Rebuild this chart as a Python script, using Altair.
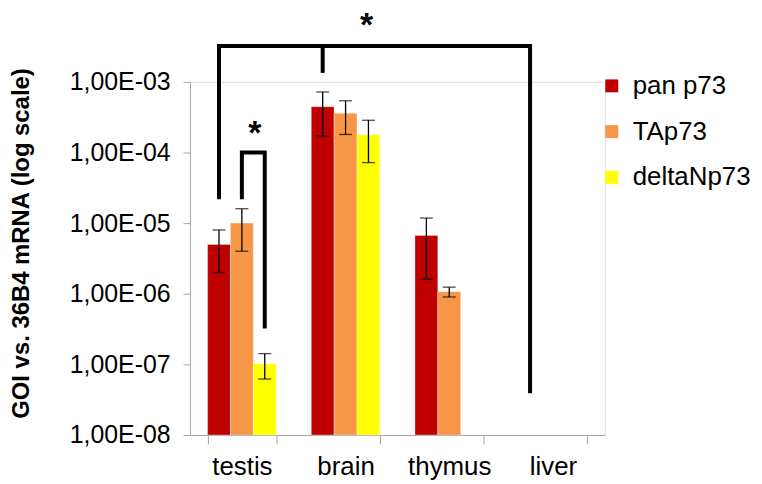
import altair as alt
import pandas as pd

categories = ["testis", "brain", "thymus", "liver"]
series = ["pan p73", "TAp73", "deltaNp73"]
colors = ["#C00000", "#F79646", "#FFFF00"]

pan_p73 = [5.0e-6, 4.45e-4, 6.7e-6, None]
tap73 = [1.0e-5, 3.6e-4, 1.07e-6, None]
deltanp73 = [1.02e-7, 1.79e-4, None, None]
pan_p73_sd = [3.0e-6, 2.75e-4, 5.1e-6, None]
tap73_sd = [6.0e-6, 1.8e-4, 1.7e-7, None]
deltanp73_sd = [4.0e-8, 1.07e-4, None, None]

y_ticks = [1e-8, 1e-7, 1e-6, 1e-5, 1e-4, 1e-3]

# significance brackets (category, series, value)
big_bracket_cat = ["testis", "testis", "liver", "liver"]
big_bracket_series = ["pan p73", "pan p73", "pan p73", "pan p73"]
big_bracket_y = [2.32e-5, 3.21e-3, 3.21e-3, 4.17e-8]
notch_cat = ["brain", "brain"]
notch_series = ["pan p73", "pan p73"]
notch_y = [3.21e-3, 1.43e-3]
small_bracket_cat = ["testis", "testis", "testis", "testis"]
small_bracket_series = ["TAp73", "TAp73", "deltaNp73", "deltaNp73"]
small_bracket_y = [2.32e-5, 1.0e-4, 1.0e-4, 3.43e-7]
big_star = {"category": "brain", "series": "deltaNp73", "value": 4.45e-3, "label": "*"}
small_star = {"category": "testis", "series": "deltaNp73", "value": 1.3e-4, "label": "*"}

rows = []
for s, vals, sds in [(series[0], pan_p73, pan_p73_sd), (series[1], tap73, tap73_sd), (series[2], deltanp73, deltanp73_sd)]:
    for c, v, sd in zip(categories, vals, sds):
        if v is not None:
            rows.append({"category": c, "series": s, "value": v, "lo": v - sd, "hi": v + sd})
bars_df = pd.DataFrame(rows)

br_rows = []
for bid, cats, sers, ys in [("big", big_bracket_cat, big_bracket_series, big_bracket_y),
                            ("notch", notch_cat, notch_series, notch_y),
                            ("small", small_bracket_cat, small_bracket_series, small_bracket_y)]:
    for i, (c, s, y) in enumerate(zip(cats, sers, ys)):
        br_rows.append({"bid": bid, "category": c, "series": s, "value": y, "ord": i})
br_df = pd.DataFrame(br_rows)

FONT = "Liberation Sans"
GRAY = "#A6A6A6"

x_enc = alt.X("category:N", scale=alt.Scale(domain=categories, paddingInner=0.338, paddingOuter=0.169),
              axis=alt.Axis(title=None, tickBand="extent", labelFontSize=26, labelFont=FONT, labelColor="#000000",
                            domainColor=GRAY, tickColor=GRAY, tickSize=9, labelPadding=10, labelAngle=0))
xo_enc = alt.XOffset("series:N", scale=alt.Scale(domain=series, paddingInner=0, paddingOuter=0))
y_scale = alt.Scale(type="log", domain=[1e-8, 1e-3], nice=False)
y_axis = alt.Axis(title="GOI vs. 36B4 mRNA (log scale)", values=y_ticks, grid=False,
                  labelExpr="'1,00E-0' + round(-log(datum.value)/LN10)",
                  labelFontSize=25, labelFont=FONT, labelColor="#000000", labelPadding=13,
                  domainColor=GRAY, tickColor=GRAY, tickSize=7,
                  titleFont=FONT, titleFontSize=24, titleFontWeight="bold", titleColor="#000000",
                  titleAngle=270, titleAlign="center", titleBaseline="middle", titleX=-169, titleY=162)

bars = alt.Chart(bars_df).mark_bar(stroke="#ffffff", strokeWidth=0.6, strokeOpacity=0.6).encode(
    x=x_enc, xOffset=xo_enc,
    y=alt.Y("value:Q", scale=y_scale, axis=y_axis),
    y2=alt.datum(1e-8),
    color=alt.Color("series:N", scale=alt.Scale(domain=series, range=colors),
                    legend=alt.Legend(title=None, orient="none", legendX=411, legendY=-9,
                                      symbolType="square", symbolSize=169, symbolStrokeWidth=0,
                                      labelFontSize=26, labelFont=FONT, labelColor="#000000",
                                      labelOffset=8, rowPadding=20, padding=0)),
)

err = alt.Chart(bars_df).mark_rule(color="#000000", strokeWidth=1.3).encode(
    x="category:N", xOffset="series:N", y="lo:Q", y2="hi:Q")
cap_lo = alt.Chart(bars_df).mark_tick(color="#000000", thickness=1.3, size=13).encode(
    x="category:N", xOffset="series:N", y="lo:Q")
cap_hi = alt.Chart(bars_df).mark_tick(color="#000000", thickness=1.3, size=13).encode(
    x="category:N", xOffset="series:N", y="hi:Q")

brackets = alt.Chart(br_df).mark_line(color="#000000", strokeWidth=4, strokeCap="square", strokeJoin="miter").encode(
    x="category:N", xOffset="series:N", y="value:Q", detail="bid:N", order="ord:Q")

star1 = alt.Chart(pd.DataFrame([big_star])).mark_text(font=FONT, fontSize=34, fontWeight="bold", color="#000000",
                                                       baseline="alphabetic", dx=-2).encode(
    x="category:N", xOffset="series:N", y="value:Q", text="label:N")
star2 = alt.Chart(pd.DataFrame([small_star])).mark_text(font=FONT, fontSize=34, fontWeight="bold", color="#000000",
                                                        baseline="alphabetic", dx=-10).encode(
    x="category:N", xOffset="series:N", y="value:Q", text="label:N")

chart = alt.layer(bars, err, cap_lo, cap_hi, brackets, star1, star2).properties(
    width=417, height=355, autosize="none",
    padding={"left": 183, "top": 73, "right": 150, "bottom": 47},
).configure_view(stroke=None).configure(background="#ffffff")

chart.save("out.html", embed_options={"renderer": "svg", "actions": False})
